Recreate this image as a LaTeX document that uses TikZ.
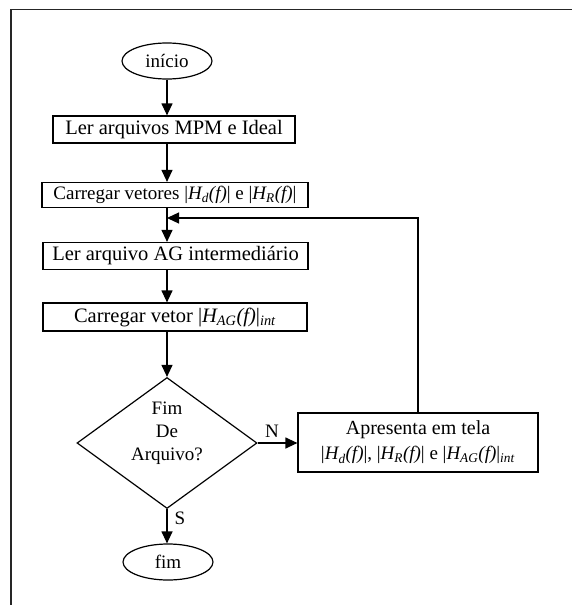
\documentclass[tikz,border=0pt]{standalone}
\usepackage{fontspec}
\setmainfont{Liberation Serif}
\usetikzlibrary{arrows.meta,shapes.geometric}
% magnitude of a transfer function, e.g. |H_d(f)|
\newcommand{\magH}[1]{|\textit{H\textsubscript{#1}(f)}|}
\begin{document}
\begin{tikzpicture}[x=1pt,y=-1pt,
  every node/.style={font=\fontsize{19}{23}\selectfont, text=black},
  big text/.style={font=\fontsize{20.5}{24}\selectfont},
  shape line/.style={draw, line width=1.2pt},
  stepbox/.style={shape line, rectangle, inner sep=0pt},
  terminal/.style={shape line, ellipse, inner sep=0pt, minimum width=90pt, minimum height=36pt},
  decision/.style={shape line, diamond, inner sep=0pt, shape aspect=1.37,
                   minimum width=180pt, minimum height=131pt},
  arr/.style={line width=1.2pt, -{Triangle[length=12pt,width=11pt]}},
  frame/.style={line width=1.6pt, draw=black!85}
]
\useasboundingbox (0,0) rectangle (572,605);

% page frame (open towards the right and bottom edges)
\coordinate (fr0) at (11,9.5);
\coordinate (fr1) at (572,9.5);
\coordinate (fr2) at (11,605);
\draw[frame] (fr1) -- (fr0) -- (fr2);

% nodes
\node[terminal] (ini) at (167,61) {início};
\node[stepbox, big text, minimum width=242pt, minimum height=27pt] (b1) at (174,129.5) {Ler arquivos MPM e Ideal};
\node[stepbox, minimum width=266pt, minimum height=25pt] (b2) at (175,195) {Carregar vetores \magH{d} e \magH{R}};
\node[stepbox, big text, minimum width=265pt, minimum height=27pt] (b3) at (175.5,256) {Ler arquivo AG intermediário};
\node[stepbox, big text, minimum width=264pt, minimum height=28pt] (b4) at (175,317) {Carregar vetor \magH{AG}\textsubscript{\textit{int}}};
\node[decision] (dec) at (167,443) {};
\node[align=center, inner sep=0pt] (dectxt) at (167,433) {Fim\\De\\Arquivo?};
\node[stepbox, minimum width=240pt, minimum height=59pt, align=center,
      font=\fontsize{19}{25}\selectfont] (b5) at (418,442.5)
  {{\fontsize{20}{25}\selectfont Apresenta em tela}\\\magH{d}, \magH{R} e \magH{AG}\textsubscript{\textit{int}}};
\node[terminal] (fim) at (168,562) {fim};

% connectors
\coordinate (fb) at (167,218);
\draw[arr] (ini.south) -- (ini.south |- b1.north);
\draw[arr] (ini.south |- b1.south) -- (ini.south |- b2.north);
\draw[arr] (ini.south |- b2.south) -- (ini.south |- b3.north);
\draw[arr] (ini.south |- b3.south) -- (ini.south |- b4.north);
\draw[arr] (ini.south |- b4.south) -- (dec.north);
\draw[arr] (dec.east) -- (dec.east -| b5.west);
\draw[arr] (dec.south) -- (dec.south |- fim.north);
\draw[arr] (b5.north) -- (b5.north |- fb) -- (fb);

% branch labels
\node[inner sep=0pt] (nlab) at (272,431) {N};
\node[inner sep=0pt] (slab) at (180,518) {S};
\end{tikzpicture}
\end{document}
